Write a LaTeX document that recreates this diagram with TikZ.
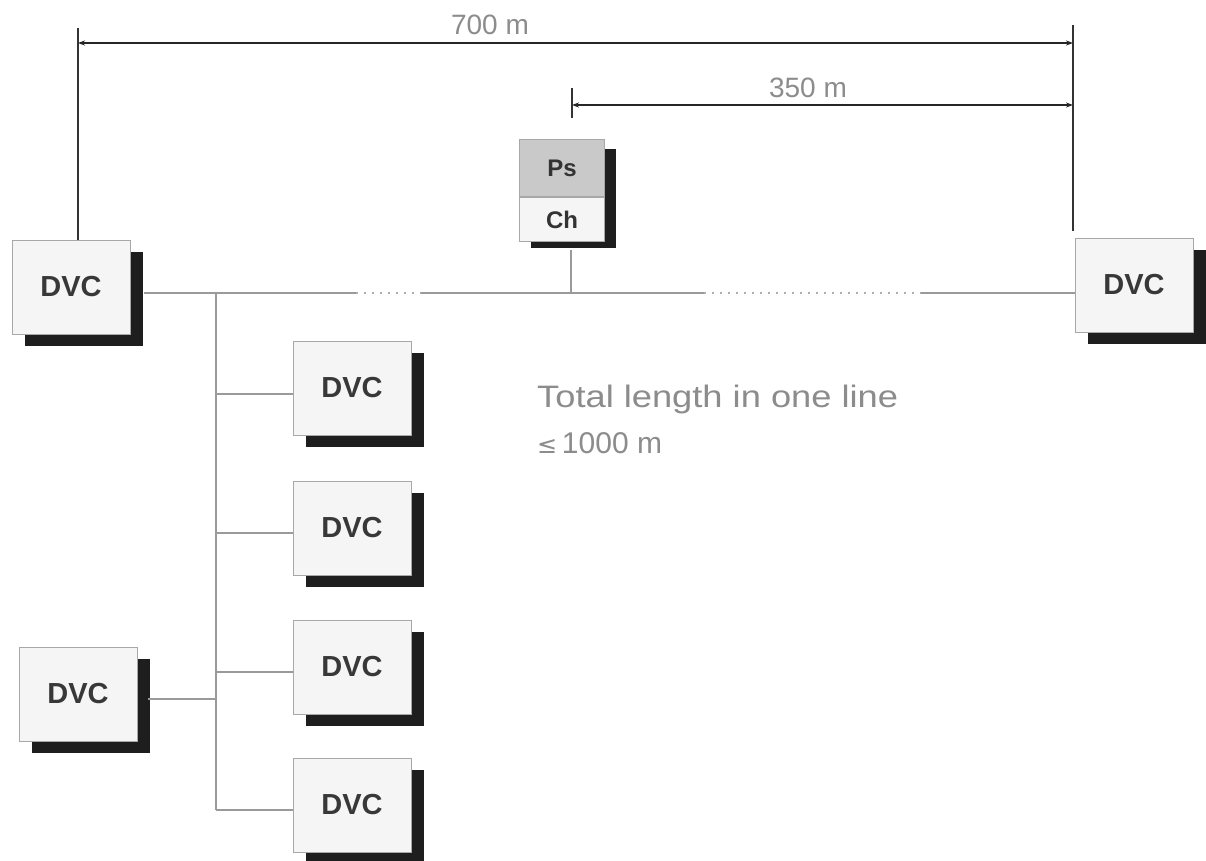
\documentclass[tikz,border=0pt]{standalone}
\usepackage{graphicx}
\usepackage{fontspec}
\setmainfont{Liberation Sans}
\newfontfamily\symfont{DejaVu Sans}
\usetikzlibrary{shadows,arrows.meta}
\definecolor{boxfill}{HTML}{F5F5F5}
\definecolor{psfill}{HTML}{C9C9C9}
\definecolor{labelgray}{HTML}{8C8C8C}
\definecolor{busgray}{HTML}{9A9A9A}
\definecolor{boxline}{HTML}{A8A8A8}
\definecolor{shadowcol}{HTML}{1E1E1E}
\begin{document}
\begin{tikzpicture}[x=1pt,y=-1pt,
  shade/.style={drop shadow={shadow xshift=13pt, shadow yshift=-12pt, fill=shadowcol, opacity=1}},
  dvc/.style={draw=boxline, line width=1pt, fill=boxfill, minimum width=118pt, minimum height=94pt,
    inner sep=0pt, font=\fontsize{29}{31}\selectfont\bfseries, text=black!78, shade},
  part/.style={draw=boxline, line width=1pt, minimum width=85pt, inner sep=0pt,
    font=\fontsize{24}{26}\selectfont\bfseries, text=black!80},
  dim/.style={line width=1.1pt, black!85},
  tick/.style={line width=1.1pt, black!80},
  dimarrow/.style={dim, {Stealth[length=7pt,width=5pt]}-{Stealth[length=7pt,width=5pt]}},
  bus/.style={line width=1.6pt, busgray},
  busdot/.style={line width=1.6pt, busgray!80, dash pattern=on 2pt off 6pt},
  lbl/.style={font=\fontsize{28}{30}\selectfont, text=labelgray, inner sep=0pt},
]
\useasboundingbox[fill=white] (0,0) rectangle (1206,861);

% dimension coordinates
\coordinate (a700l) at (78,43);
\coordinate (a700r) at (1073,43);
\coordinate (t700lt) at (78,28);
\coordinate (t700rt) at (1073,25);
\coordinate (a350l) at (572,105);
\coordinate (a350r) at (1073,105);
\coordinate (t350t) at (572,88);
\coordinate (t350b) at (572,118);

% boxes
\node[dvc] (L1) at (71,287) {DVC};
\node[dvc] (R1) at (1134,285) {DVC};
\node[dvc] (B1) at (352,388) {DVC};
\node[dvc] (B2) at (352,528) {DVC};
\node[dvc] (B3) at (352,667) {DVC};
\node[dvc] (B4) at (352,805) {DVC};
\node[dvc] (BL) at (78,694) {DVC};

% Ps / Ch stack with one shadow
\coordinate (psshadowa) at (531,149);
\coordinate (psshadowb) at (616,248);
\fill[shadowcol] (psshadowa) rectangle (psshadowb);
\node[part, fill=psfill, minimum height=57pt] (Ps) at (562,168) {Ps};
\node[part, fill=boxfill, minimum height=44pt, anchor=north] (Ch) at (Ps.south) {Ch};

% dimension graphics
\draw[tick] (t700lt) -- (L1.north -| t700lt);
\draw[tick] (t700rt) -- ([yshift=7pt]R1.north -| t700rt);
\draw[tick] (t350t) -- (t350b);
\draw[dimarrow] (a700l) -- (a700r);
\draw[dimarrow] (a350l) -- (a350r);
\node[lbl] (l700) at (490,25) {700 m};
\node[lbl] (l350) at (808,88) {350 m};

% bus
\coordinate (b0) at (144,293);
\coordinate (b1) at (356,293);
\coordinate (b2) at (421,293);
\coordinate (b3) at (704,293);
\coordinate (b4) at (921,293);
\coordinate (tap) at (571,293);
\coordinate (trunktop) at (216,293);
\coordinate (t1) at (216,394);
\coordinate (t2) at (216,533);
\coordinate (t3) at (216,672);
\coordinate (t4) at (216,810);
\coordinate (tl) at (216,699);
\coordinate (blr) at (148,699);

\draw[bus] (b0) -- (b1);
\draw[busdot] (b1) -- (b2);
\draw[bus] (b2) -- (b3);
\draw[busdot] (b3) -- (b4);
\draw[bus] (b4) -- (b4 -| R1.west);
\draw[bus, line width=1.2pt] (Ch.south -| tap) ++(0,8) -- (tap);
\draw[bus, line width=1.4pt] (trunktop) -- (t4);
\draw[bus, line width=1.4pt] (t1) -- (t1 -| B1.west);
\draw[bus, line width=1.4pt] (t2) -- (t2 -| B2.west);
\draw[bus, line width=1.4pt] (t3) -- (t3 -| B3.west);
\draw[bus, line width=1.4pt] (t4) -- (t4 -| B4.west);
\draw[bus, line width=1.4pt] (blr) -- (tl);

% note
\node[lbl, anchor=west] (n1) at (537,399) {\scalebox{1.17}[1]{\fontsize{31}{33}\selectfont Total length in one line}};
\node[lbl, anchor=west] (n2) at (537,443) {{\symfont\fontsize{24}{26}\selectfont ≤}\,\fontsize{30}{32}\selectfont 1000 m};
\end{tikzpicture}
\end{document}
